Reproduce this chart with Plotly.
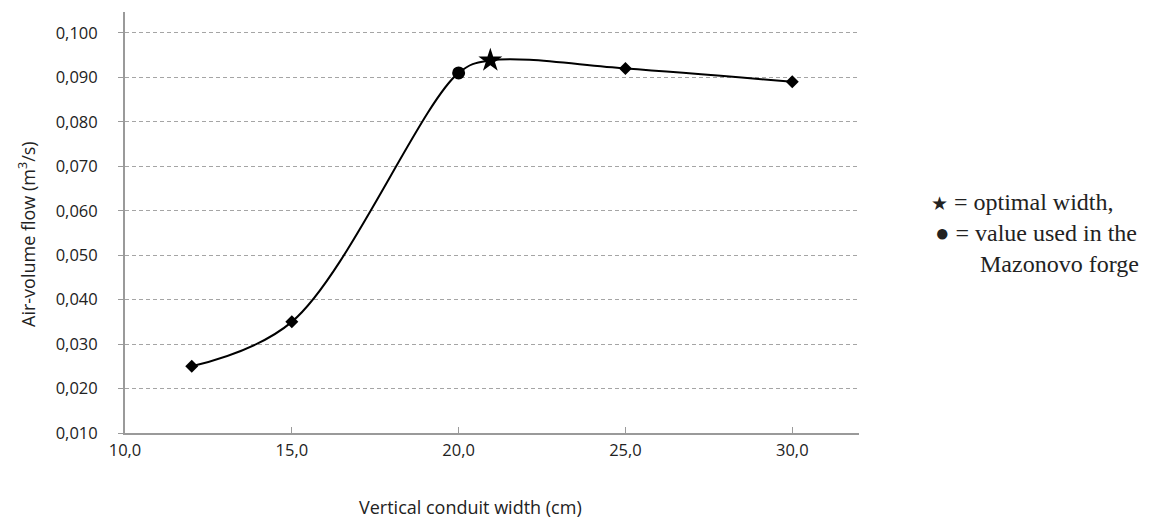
import plotly.graph_objects as go

widths = [12, 15, 20, 20.95, 25, 30]
flows = [0.025, 0.035, 0.091, 0.0938, 0.092, 0.089]

diamond_x = [12, 15, 25, 30]
diamond_y = [0.025, 0.035, 0.092, 0.089]
used_x = [20]
used_y = [0.091]
opt_x = [20.95]
opt_y = [0.0938]

x_ticks = [10, 15, 20, 25, 30]
y_ticks = [0.01, 0.02, 0.03, 0.04, 0.05, 0.06, 0.07, 0.08, 0.09, 0.10]

L, R, T, B = 125, 293, 12, 88
W, H = 1152, 521
PW, PH = W - L - R, H - T - B

fig = go.Figure()
fig.add_trace(go.Scatter(x=widths, y=flows, mode="lines",
                         line=dict(color="black", width=2, shape="spline", smoothing=1.0),
                         showlegend=False, hoverinfo="skip"))
fig.add_trace(go.Scatter(x=diamond_x, y=diamond_y, mode="markers",
                         marker=dict(symbol="diamond", size=10, color="black"), showlegend=False))
fig.add_trace(go.Scatter(x=used_x, y=used_y, mode="markers",
                         marker=dict(symbol="circle", size=13, color="black"), showlegend=False))
fig.add_trace(go.Scatter(x=opt_x, y=opt_y, mode="markers",
                         marker=dict(symbol="star", size=18, color="black"), showlegend=False))

axis_font = dict(family="Open Sans", size=16.5, color="#222")
fig.update_layout(
    width=W, height=H,
    margin=dict(l=L, r=R, t=T, b=B),
    paper_bgcolor="white", plot_bgcolor="white",
    separators=",.",
    xaxis=dict(range=[10, 32], tickvals=x_ticks, tickformat=".1f",
               showline=True, linecolor="#9a9a9a", linewidth=2,
               ticks="inside", ticklen=6, tickcolor="#9a9a9a", tickwidth=1,
               ticklabelstandoff=1,
               showgrid=False, zeroline=False, tickfont=axis_font),
    yaxis=dict(range=[0.01, 0.1047], tickvals=y_ticks, tickformat=".3f",
               showline=True, linecolor="#9a9a9a", linewidth=2,
               ticks="outside", ticklen=5, tickcolor="#9a9a9a", tickwidth=1,
               ticklabelstandoff=17,
               showgrid=True, gridcolor="#a5a5a5", griddash="4px,3px", gridwidth=1,
               zeroline=False, tickfont=axis_font),
)

title_font = dict(family="Open Sans", size=18, color="#222")
fig.add_annotation(xref="paper", yref="paper", x=(27 - L) / PW, y=(H - B - 234) / PH,
                   xanchor="center", yanchor="middle", textangle=-90, showarrow=False,
                   text="Air-volume flow (m<sup>3</sup>/s)", font=title_font)
fig.add_annotation(xref="paper", yref="paper", x=(470 - L) / PW, y=(H - B - 507) / PH,
                   xanchor="center", yanchor="middle", showarrow=False,
                   text="Vertical conduit width (cm)", font=title_font)

serif = dict(family="Liberation Serif", size=24, color="#222")
fig.add_annotation(xref="paper", yref="paper", xanchor="left", yanchor="middle",
                   x=(929 - L) / PW, y=(H - B - 202) / PH,
                   text="<span style='font-size:19px'>★</span> = optimal width,",
                   showarrow=False, font=serif)
fig.add_annotation(xref="paper", yref="paper", xanchor="left", yanchor="middle",
                   x=(933 - L) / PW, y=(H - B - 233) / PH, text="● = value used in the",
                   showarrow=False, font=serif)
fig.add_annotation(xref="paper", yref="paper", xanchor="left", yanchor="middle",
                   x=(978 - L) / PW, y=(H - B - 264) / PH, text="Mazonovo forge",
                   showarrow=False, font=serif)

fig.write_html("out.html")
